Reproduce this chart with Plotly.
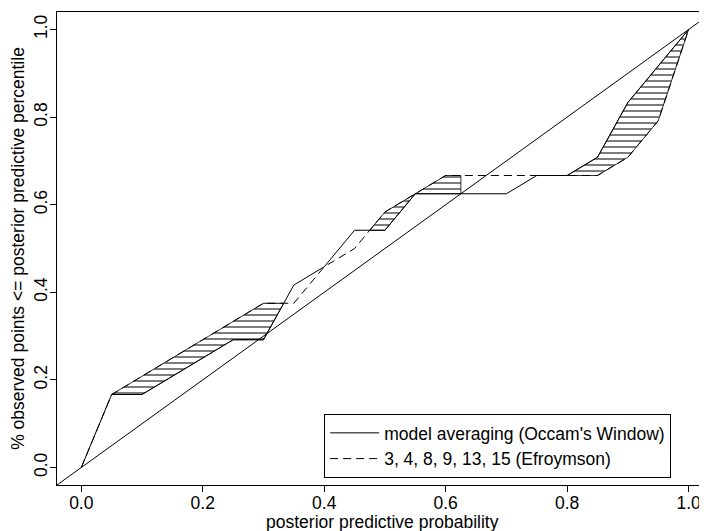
import numpy as np
import plotly.graph_objects as go

# ---- data ----
solid_x = [0.0, 0.05, 0.10, 0.15, 0.20, 0.25, 0.30, 0.35, 0.40, 0.45, 0.50, 0.55, 0.60, 0.65, 0.70, 0.75, 0.80, 0.85, 0.90, 0.95, 1.0]
solid_n = [0, 4, 4, 5, 6, 7, 7, 10, 11, 13, 13, 15, 15, 15, 15, 16, 16, 17, 20, 22, 24]
dashed_x = [0.0, 0.05, 0.10, 0.15, 0.20, 0.25, 0.30, 0.35, 0.40, 0.45, 0.50, 0.55, 0.60, 0.65, 0.70, 0.75, 0.80, 0.85, 0.90, 0.95, 1.0]
dashed_n = [0, 4, 5, 6, 7, 8, 9, 9, 11, 12, 14, 15, 16, 16, 16, 16, 16, 16, 17, 19, 24]
n_obs = 24
hatch_ranges = [(0.05, 0.3333), (0.475, 0.625), (0.80, 1.0)]
tick_vals = [0.0, 0.2, 0.4, 0.6, 0.8, 1.0]
tick_text = ["0.0", "0.2", "0.4", "0.6", "0.8", "1.0"]
name_solid = "model averaging (Occam's Window)"
name_dashed = "3, 4, 8, 9, 13, 15 (Efroymson)"
x_title = "posterior predictive probability"
y_title = "% observed points &lt;= posterior predictive percentile"

solid_y = np.array(solid_n) / n_obs
dashed_y = np.array(dashed_n) / n_obs

fig = go.Figure()

# hatched regions between the two curves
for a, b in hatch_ranges:
    pts = sorted(set([a, b] + [v for v in solid_x + dashed_x if a < v < b]))
    g = np.array(pts)
    up = np.interp(g, dashed_x, dashed_y)
    lo = np.interp(g, solid_x, solid_y)
    px = list(g) + list(g[::-1]) + [g[0]]
    py = list(up) + list(lo[::-1]) + [up[0]]
    fig.add_trace(go.Scatter(
        x=px, y=py, mode="lines", fill="toself", showlegend=False, hoverinfo="skip",
        line=dict(color="black", width=0.8),
        fillcolor="rgba(0,0,0,0)",
        fillpattern=dict(shape="-", size=6, solidity=0.17, fgcolor="black",
                         bgcolor="white", fillmode="replace"),
    ))

# diagonal reference line
fig.add_trace(go.Scatter(x=[-0.1, 1.1], y=[-0.1, 1.1], mode="lines",
                         line=dict(color="black", width=1), showlegend=False, hoverinfo="skip"))

fig.add_trace(go.Scatter(x=solid_x, y=solid_y, mode="lines", name=name_solid,
                         line=dict(color="black", width=1)))
fig.add_trace(go.Scatter(x=dashed_x, y=dashed_y, mode="lines", name=name_dashed,
                         line=dict(color="black", width=1, dash="8px,5px")))

axis_common = dict(
    tickvals=tick_vals, ticktext=tick_text, ticks="outside", ticklen=6,
    tickcolor="black", tickwidth=1, showline=True, linecolor="black", linewidth=1,
    showgrid=False, zeroline=False, tickfont=dict(size=17.5, color="black"),
    automargin=False, ticklabelstandoff=-4,
)

fig.update_xaxes(range=[-0.04, 1.0303], mirror=True, **axis_common)
fig.update_yaxes(range=[-0.04, 1.04], tickangle=-90,
                 title=dict(text=y_title, standoff=4, font=dict(size=17.5)), **axis_common)

# x-axis title placed just below the tick labels, as in the reference
fig.add_annotation(text=x_title, xref="paper", yref="paper", x=0.5, y=-0.078,
                   xanchor="center", yanchor="middle", showarrow=False,
                   font=dict(size=17.5, color="black"))

fig.update_layout(
    width=699, height=523,
    margin=dict(l=49, r=0, t=4, b=46),
    plot_bgcolor="white", paper_bgcolor="white",
    font=dict(family="Liberation Sans, Arial, sans-serif", size=17.5, color="black"),
    legend=dict(x=0.411, y=0.0825, xanchor="left", yanchor="middle",
                bordercolor="black", borderwidth=1, bgcolor="white",
                font=dict(size=17.5), tracegroupgap=0, itemwidth=49),
)

fig.write_html("out.html")
